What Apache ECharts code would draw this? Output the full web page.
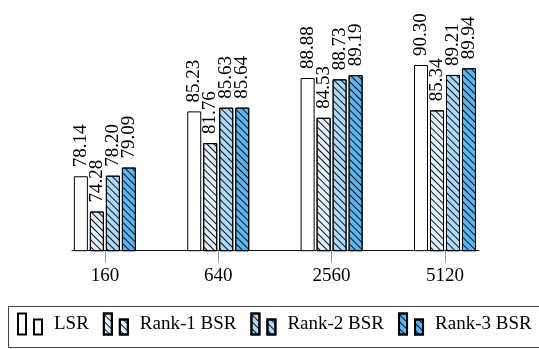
<!DOCTYPE html>
<html>
<head>
<meta charset="utf-8">
<script src="https://cdn.jsdelivr.net/npm/echarts@6/dist/echarts.min.js"></script>
<style>
  html, body { margin: 0; padding: 0; background: #fff; }
  #chart { width: 539px; height: 349px; }
</style>
</head>
<body>
<div id="chart"></div>
<script>
// Accuracy by number of training samples
const categories = ['160', '640', '2560', '5120'];
const seriesNames = ['LSR', 'Rank-1 BSR', 'Rank-2 BSR', 'Rank-3 BSR'];
const lsr   = [78.14, 85.23, 88.88, 90.30];
const rank1 = [74.28, 81.76, 84.53, 85.34];
const rank2 = [78.20, 85.63, 88.73, 89.21];
const rank3 = [79.09, 85.64, 89.19, 89.94];

const FONT = "'Liberation Serif', 'DejaVu Serif', serif";
const fills = ['#ffffff', '#e2f1ff', '#acd9fc', '#5cb4f0'];
const hatched = [false, true, true, true];

// north-west to south-east hatching
const hatch = {
  symbol: 'rect',
  symbolSize: 1,
  dashArrayX: [1, 0],
  dashArrayY: [1, 4],
  rotation: Math.PI / 4,
  color: '#111'
};

const tickPositions = categories.map((_, i) => i);

function makeSeries(name, values, idx) {
  return {
    name: name,
    type: 'bar',
    barWidth: 14,
    barGap: '14.3%',
    data: values.map((v, i) => [i, v]),
    itemStyle: {
      color: fills[idx],
      borderColor: '#000',
      borderWidth: 1,
      decal: hatched[idx] ? hatch : null
    },
    label: {
      show: true,
      position: 'top',
      rotate: 90,
      align: 'left',
      verticalAlign: 'middle',
      distance: 9,
      fontFamily: FONT,
      fontSize: 19,
      color: '#000',
      formatter: p => p.value[1].toFixed(2)
    },
    emphasis: { disabled: true }
  };
}

const chart = echarts.init(document.getElementById('chart'), null, { renderer: 'canvas' });
chart.setOption({
  animation: false,
  backgroundColor: '#fff',
  grid: { left: 72, right: 60, top: 22, bottom: 98.3, containLabel: false },
  xAxis: {
    type: 'value',
    min: -0.29,
    max: 3.3,
    splitLine: { show: false },
    axisLine: { show: true, onZero: false, lineStyle: { color: '#111', width: 1 } },
    axisTick: { show: true, length: 12, customValues: tickPositions, lineStyle: { color: '#999', width: 1 } },
    axisLabel: {
      show: true,
      customValues: tickPositions,
      margin: 16,
      fontFamily: FONT,
      fontSize: 19,
      color: '#000',
      formatter: v => categories[Math.round(v)]
    }
  },
  yAxis: {
    type: 'value',
    min: 70,
    max: 95,
    show: false
  },
  legend: {
    data: seriesNames,
    left: 17,
    top: 312.5,
    padding: 0,
    itemWidth: 24,
    itemHeight: 21,
    itemGap: 14,
    icon: 'path://M0,0H8V21H0Z M16,6H24V21H16Z',
    selectedMode: false,
    textStyle: {
      fontFamily: FONT,
      fontSize: 19,
      color: '#000',
      padding: [9, 0, 0, 7]
    }
  },
  graphic: [{
    type: 'rect',
    shape: { x: 8.5, y: 306.5, width: 600, height: 41 },
    style: { fill: 'none', stroke: '#444', lineWidth: 1 },
    silent: true
  }],
  series: [
    makeSeries(seriesNames[0], lsr, 0),
    makeSeries(seriesNames[1], rank1, 1),
    makeSeries(seriesNames[2], rank2, 2),
    makeSeries(seriesNames[3], rank3, 3)
  ]
});
</script>
</body>
</html>
